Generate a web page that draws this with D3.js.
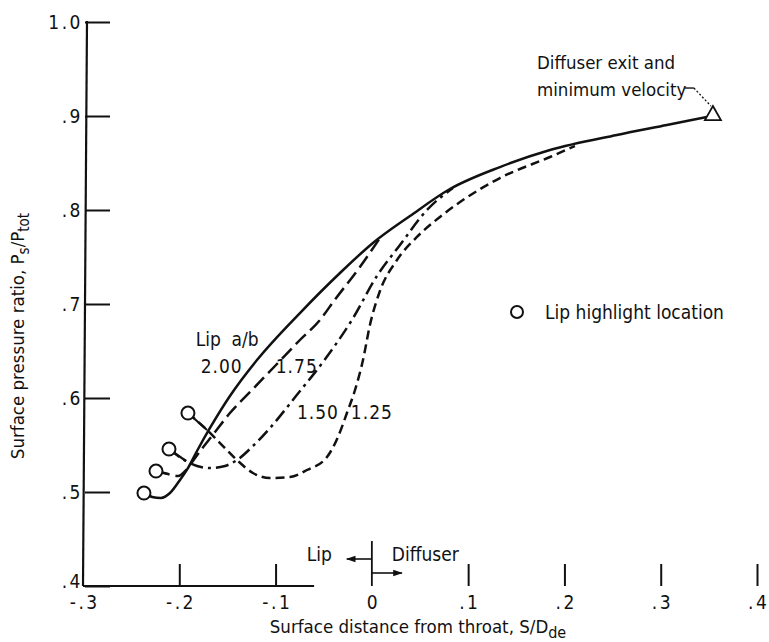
<!DOCTYPE html>
<html>
<head>
<meta charset="utf-8">
<script src="https://cdn.jsdelivr.net/npm/d3@7"></script>
<style>
  html, body { margin: 0; padding: 0; background: #fff; }
  svg { display: block; }
  text { font-family: "Liberation Sans Narrow", "DejaVu Sans Condensed", "Arial Narrow", sans-serif; fill: #111; }
</style>
</head>
<body>
<svg id="chart" width="769" height="642"></svg>
<script>
// ---- Data ----
const xTicks = [-0.3, -0.2, -0.1, 0, 0.1, 0.2, 0.3, 0.4];
const xTickLabels = ["-.3", "-.2", "-.1", "0", ".1", ".2", ".3", ".4"];
const yTicks = [0.4, 0.5, 0.6, 0.7, 0.8, 0.9, 1.0];
const yTickLabels = [".4", ".5", ".6", ".7", ".8", ".9", "1.0"];

// Lip a/b = 2.00 (solid)
const lip200 = [[-0.2367,0.4989],[-0.2283,0.4947],[-0.219,0.4936],[-0.2097,0.4989],[-0.1993,0.5128],
  [-0.191,0.5255],[-0.1816,0.5436],[-0.1681,0.5681],[-0.1474,0.6021],[-0.1193,0.6404],[-0.0747,0.6904],
  [-0.0331,0.7330],[0.0011,0.7649],[0.0396,0.7936],[0.0811,0.8223],[0.133,0.8457],[0.185,0.8638],
  [0.2545,0.8798],[0.3064,0.8904],[0.348,0.8989]];
// Lip a/b = 1.75 (long dash)
const lip175 = [[-0.2242,0.5223],[-0.2117,0.5191],[-0.2013,0.517],[-0.193,0.5234],[-0.1858,0.533],
  [-0.1775,0.5447],[-0.166,0.5596],[-0.1474,0.584],[-0.1235,0.6096],[-0.0996,0.6351],[-0.0747,0.6617],
  [-0.0539,0.683],[-0.0394,0.7032],[-0.0124,0.7394],[0.0084,0.7702]];
// Lip a/b = 1.50 (dash-dot)
const lip150 = [[-0.2107,0.5457],[-0.193,0.533],[-0.1816,0.5277],[-0.1681,0.5255],[-0.1525,0.5277],
  [-0.1401,0.534],[-0.1235,0.5489],[-0.1058,0.5681],[-0.0788,0.6021],[-0.0508,0.6383],[-0.0207,0.683],
  [0.0053,0.7298],[0.0292,0.7628],[0.0572,0.800],[0.0842,0.8234]];
// Lip a/b = 1.25 (short dash)
const lip125 = [[-0.191,0.584],[-0.1712,0.566],[-0.1577,0.5521],[-0.1401,0.534],[-0.1235,0.5202],
  [-0.1058,0.5149],[-0.085,0.516],[-0.0674,0.5234],[-0.0466,0.5372],[-0.0352,0.5585],[-0.0259,0.584],
  [-0.0175,0.6085],[-0.0092,0.6404],[-0.002,0.6777],[0.0084,0.7138],[0.0261,0.7468],[0.0468,0.7713],
  [0.0707,0.7926],[0.0946,0.8106],[0.133,0.834],[0.185,0.8564],[0.2109,0.8681]];
const diffuserExit = [0.3542, 0.9021];

const series = [
  { name: "2.00", pts: lip200, dash: null },
  { name: "1.75", pts: lip175, dash: "14,6" },
  { name: "1.50", pts: lip150, dash: "13,5,3,5" },
  { name: "1.25", pts: lip125, dash: "9,5" }
];
const curveLabels = [
  { text: "2.00", x: -0.156, y: 0.627 },
  { text: "1.75", x: -0.078, y: 0.627 },
  { text: "1.50", x: -0.056, y: 0.578 },
  { text: "1.25", x: 0.000, y: 0.578 }
];

// ---- Scales ----
const svg = d3.select("#chart");
const x = d3.scaleLinear().domain([-0.3, 0.4]).range([83, 757]);
const y = d3.scaleLinear().domain([0.4, 1.0]).range([586, 22]);

// ---- Axes ----
const yAxis = d3.axisLeft(y).tickValues(yTicks)
  .tickFormat((d, i) => yTickLabels[i]).tickSize(-25).tickPadding(2);
const gy = svg.append("g").attr("transform", `translate(${x(-0.3) + 2},0)`).call(yAxis);
gy.select(".domain").remove();
gy.selectAll(".tick line").attr("stroke", "#111").attr("stroke-width", 2);
gy.selectAll(".tick text").attr("font-size", 19).attr("letter-spacing", 2.5).style("font-family", null)
  .filter(d => d === 0.4).attr("dy", "0.1em");
svg.append("line").attr("x1", x(-0.3) + 4).attr("y1", y(1.0) - 1)
  .attr("x2", x(-0.3)).attr("y2", y(0.4)).attr("stroke", "#111").attr("stroke-width", 2.2);

const xAxis = d3.axisBottom(x).tickValues(xTicks)
  .tickFormat((d, i) => xTickLabels[i]).tickSize(-22).tickPadding(10);
const gx = svg.append("g").attr("transform", `translate(0,${y(0.4)})`).call(xAxis);
gx.select(".domain").remove();
gx.selectAll(".tick line").attr("stroke", "#111").attr("stroke-width", 2)
  .filter(d => d === 0 || d === -0.3).remove();
gx.selectAll(".tick text").attr("font-size", 19).attr("letter-spacing", 2.5).style("font-family", null)
  .attr("dx", 1.2);
svg.append("line").attr("x1", x(-0.3)).attr("y1", y(0.4))
  .attr("x2", x(-0.06)).attr("y2", y(0.4)).attr("stroke", "#111").attr("stroke-width", 2);

// Lip / Diffuser separator at S = 0
const x0 = x(0);
svg.append("line").attr("x1", x0).attr("x2", x0).attr("y1", y(0.4) - 45).attr("y2", y(0.4))
  .attr("stroke", "#111").attr("stroke-width", 1.8);
const defs = svg.append("defs");
defs.append("marker").attr("id", "ah").attr("viewBox", "0 0 10 10").attr("refX", 9).attr("refY", 5)
  .attr("markerWidth", 9).attr("markerHeight", 6).attr("orient", "auto-start-reverse")
  .append("path").attr("d", "M0,1.5 L10,5 L0,8.5 Z").attr("fill", "#111");
svg.append("line").attr("x1", x0).attr("x2", x0 - 25).attr("y1", y(0.4) - 27).attr("y2", y(0.4) - 27)
  .attr("stroke", "#111").attr("stroke-width", 1.6).attr("marker-end", "url(#ah)");
svg.append("line").attr("x1", x0).attr("x2", x0 + 30).attr("y1", y(0.4) - 13).attr("y2", y(0.4) - 13)
  .attr("stroke", "#111").attr("stroke-width", 1.6).attr("marker-end", "url(#ah)");
svg.append("text").attr("x", x0 - 40).attr("y", y(0.4) - 25).attr("text-anchor", "end")
  .attr("font-size", 19).text("Lip");
svg.append("text").attr("x", x0 + 20).attr("y", y(0.4) - 25).attr("text-anchor", "start")
  .attr("font-size", 19).text("Diffuser");

// Axis titles
const xt = svg.append("text").attr("x", 418).attr("y", 633).attr("text-anchor", "middle").attr("font-size", 18.5);
xt.append("tspan").text("Surface distance from throat,  S/D");
xt.append("tspan").attr("dy", 5).attr("font-size", 16).text("de");

const yt = svg.append("text").attr("transform", "translate(24,336) rotate(-90)")
  .attr("text-anchor", "middle").attr("font-size", 18.5);
yt.append("tspan").text("Surface pressure ratio,  P");
yt.append("tspan").attr("dy", 5).attr("font-size", 15).text("s");
yt.append("tspan").attr("dy", -5).text("/P");
yt.append("tspan").attr("dy", 5).attr("font-size", 15).text("tot");

// ---- Curves ----
const line = d3.line().x(d => x(d[0])).y(d => y(d[1])).curve(d3.curveMonotoneX);
series.forEach(s => {
  svg.append("path").attr("d", line(s.pts)).attr("fill", "none").attr("stroke", "#111")
    .attr("stroke-width", 2.5).attr("stroke-dasharray", s.dash).attr("stroke-linecap", "butt");
  // solid stem from the lip highlight circle
  svg.append("path").attr("d", line(s.pts.slice(0, 2))).attr("fill", "none")
    .attr("stroke", "#111").attr("stroke-width", 2.2);
  svg.append("circle").attr("cx", x(s.pts[0][0])).attr("cy", y(s.pts[0][1])).attr("r", 6.5)
    .attr("fill", "#fff").attr("stroke", "#111").attr("stroke-width", 2);
});

curveLabels.forEach(l => {
  svg.append("text").attr("x", x(l.x)).attr("y", y(l.y)).attr("text-anchor", "middle")
    .attr("font-size", 19).attr("letter-spacing", 1).text(l.text);
});
svg.append("text").attr("x", x(-0.183)).attr("y", y(0.655)).attr("font-size", 19)
  .attr("xml:space", "preserve").text("Lip  a/b");

// Diffuser exit triangle + annotation
const tx = x(diffuserExit[0]), ty = y(diffuserExit[1]);
svg.append("path").attr("d", `M${tx},${ty - 8} L${tx + 8},${ty + 6} L${tx - 8},${ty + 6} Z`)
  .attr("fill", "#fff").attr("stroke", "#111").attr("stroke-width", 1.8);
svg.append("path").attr("d", `M${tx - 28},${ty - 26} L${tx - 19},${ty - 26}`)
  .attr("fill", "none").attr("stroke", "#111").attr("stroke-width", 1.4);
svg.append("path").attr("d", `M${tx - 19},${ty - 26} L${tx - 2},${ty - 8}`)
  .attr("fill", "none").attr("stroke", "#111").attr("stroke-width", 1.3).attr("stroke-dasharray", "2,2");
svg.append("text").attr("x", 537).attr("y", 69).attr("font-size", 18.5).text("Diffuser exit and");
svg.append("text").attr("x", 537).attr("y", 96).attr("font-size", 18.5).text("minimum velocity");

// Legend
svg.append("circle").attr("cx", 517).attr("cy", 312).attr("r", 6).attr("fill", "#fff")
  .attr("stroke", "#111").attr("stroke-width", 2);
svg.append("text").attr("x", 545).attr("y", 319).attr("font-size", 19).text("Lip highlight location");
</script>
</body>
</html>
